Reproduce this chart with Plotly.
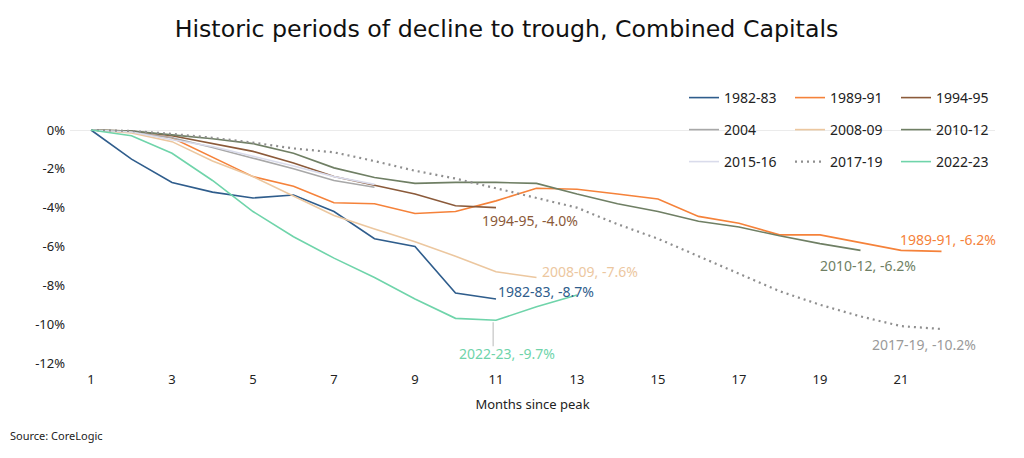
import plotly.graph_objects as go

W, H = 1024, 458
OFF = 8  # page body margin offset

series_names = ["1982-83", "1989-91", "1994-95", "2004", "2008-09", "2010-12",
                "2015-16", "2017-19", "2022-23"]
colors = ["#2f5d8c", "#f5823a", "#8b5a3a", "#a8a8a8", "#ecc79f", "#6f7f64",
          "#d9dbeb", "#8f8f8f", "#6fd4aa"]
dashes = ["solid"] * 7 + ["2px,4px", "solid"]
widths = [1.6] * 7 + [2.2, 1.6]

v_1982_83 = [0, -1.5, -2.7, -3.2, -3.5, -3.35, -4.2, -5.6, -6.0, -8.4, -8.7]
v_1989_91 = [0, -0.1, -0.4, -1.4, -2.4, -2.9, -3.75, -3.8, -4.3, -4.2, -3.65,
             -3.0, -3.05, -3.3, -3.55, -4.45, -4.8, -5.4, -5.4, -5.8, -6.2, -6.25]
v_1994_95 = [0, -0.05, -0.3, -0.7, -1.1, -1.7, -2.4, -2.85, -3.3, -3.9, -4.0]
v_2004 = [0, -0.1, -0.4, -0.9, -1.45, -2.0, -2.6, -2.95]
v_2008_09 = [0, -0.15, -0.6, -1.6, -2.4, -3.4, -4.4, -5.1, -5.75, -6.5, -7.3, -7.6]
v_2010_12 = [0, -0.05, -0.25, -0.45, -0.7, -1.2, -1.95, -2.45, -2.75, -2.7, -2.7,
             -2.75, -3.3, -3.8, -4.2, -4.7, -5.0, -5.45, -5.85, -6.2]
v_2015_16 = [0, -0.1, -0.5, -0.85, -1.35, -1.85, -2.4, -2.8]
v_2017_19 = [0, -0.05, -0.2, -0.4, -0.65, -0.95, -1.15, -1.6, -2.1, -2.5, -3.0,
             -3.5, -4.0, -4.85, -5.6, -6.5, -7.4, -8.3, -9.0, -9.6, -10.1, -10.25]
v_2022_23 = [0, -0.3, -1.2, -2.6, -4.2, -5.5, -6.6, -7.6, -8.7, -9.7, -9.8, -9.1, -8.5]

values = [v_1982_83, v_1989_91, v_1994_95, v_2004, v_2008_09, v_2010_12,
          v_2015_16, v_2017_19, v_2022_23]

y_ticks = [0, -2, -4, -6, -8, -10, -12]
y_tick_text = ["0%", "-2%", "-4%", "-6%", "-8%", "-10%", "-12%"]
x_ticks = list(range(1, 22, 2))

# end labels: (series index, label value, anchor, xshift, yshift, use trough)
end_labels = [
    (2, "-4.0%", "center", 34, -13, False),
    (4, "-7.6%", "left", 3, 6, False),
    (0, "-8.7%", "left", 0, 7, False),
    (1, "-6.2%", "center", 6, 12, False),
    (5, "-6.2%", "center", 7, -15, False),
    (7, "-10.2%", "center", -18, -15, False),
    (8, "-9.7%", "center", 11, -33, True),
]
label_colors = {7: "#9a9a9a"}

FONT = "Noto Sans"

fig = go.Figure()
legend_ids = ["legend", "legend2", "legend3"]
for i, (name, vals) in enumerate(zip(series_names, values)):
    months = list(range(1, len(vals) + 1))
    fig.add_trace(go.Scatter(
        x=months, y=vals, mode="lines", name=name,
        line=dict(color=colors[i], width=widths[i], dash=dashes[i]),
        legend=legend_ids[i // 3], hoverinfo="skip",
    ))

for idx, val_text, anchor, xs, ys, trough in end_labels:
    vals = values[idx]
    if trough:
        k = vals.index(min(vals))
    else:
        k = len(vals) - 1
    xm, ym = k + 1, vals[k]
    fig.add_annotation(
        x=xm, y=ym, xref="x", yref="y", text=f"{series_names[idx]}, {val_text}",
        showarrow=False, xanchor=anchor, yanchor="middle", xshift=xs, yshift=ys,
        font=dict(family=FONT, size=14, color=label_colors.get(idx, colors[idx])),
    )
    if trough:
        fig.add_shape(type="line", xref="x", yref="y", ysizemode="pixel",
                      x0=xm - 0.07, x1=xm - 0.07, yanchor=ym, y0=-2, y1=-26,
                      line=dict(color="#d0d0d0", width=1.5))

# plot area in screen pixels (reference): left 70, right 995, y0 at 130, -12 at 363
L = 70 - OFF
R = W - (995 - OFF)
T = 80 - OFF
B = H - (363 - OFF)
x_lo = 1 - 21 / 40.5
x_hi = x_lo + (W - L - R) / 40.5
y_hi = (130 - 80) / ((363 - 130) / 12)

fig.update_layout(
    width=W, height=H,
    margin=dict(l=L, r=R, t=T, b=B, autoexpand=False),
    paper_bgcolor="white", plot_bgcolor="white",
    font=dict(family=FONT, size=13, color="#333333"),
    title=dict(text="Historic periods of decline to trough, Combined Capitals",
               x=(506.5 - OFF) / W, xanchor="center", y=1 - 21 / H, yanchor="middle",
               font=dict(family="DejaVu Sans", size=23.7, color="#111111")),
    xaxis=dict(range=[x_lo, x_hi], tickvals=x_ticks, showgrid=False, zeroline=False,
               showline=False, ticks="", ticklabelstandoff=7,
               tickfont=dict(size=13, color="#222222"),
               title=dict(text="Months since peak", font=dict(size=13, color="#222222"),
                          standoff=12)),
    yaxis=dict(range=[-12, y_hi], tickvals=y_ticks, ticktext=y_tick_text,
               showgrid=False, zeroline=True, zerolinecolor="#ebebeb", zerolinewidth=1,
               showline=False, ticks="", ticklabelstandoff=4,
               tickfont=dict(size=13, color="#222222")),
    showlegend=True,
)

row_y = [90, 122, 154]
for lid, ry in zip(legend_ids, row_y):
    fig.update_layout({lid: dict(
        orientation="h", xref="container", yref="container",
        x=676 / W, xanchor="left", y=1 - ry / H, yanchor="middle",
        entrywidth=61, entrywidthmode="pixels", bgcolor="rgba(0,0,0,0)",
        font=dict(family=FONT, size=14, color="#222222"), itemwidth=30,
    )})

fig.add_annotation(text="Source: CoreLogic", xref="paper", yref="paper",
                   x=-L / (W - L - R), y=-(435 - 363) / (H - T - B),
                   xanchor="left", yanchor="middle", showarrow=False,
                   xshift=0, font=dict(family=FONT, size=11, color="#222222"))

fig.write_html("out.html")
